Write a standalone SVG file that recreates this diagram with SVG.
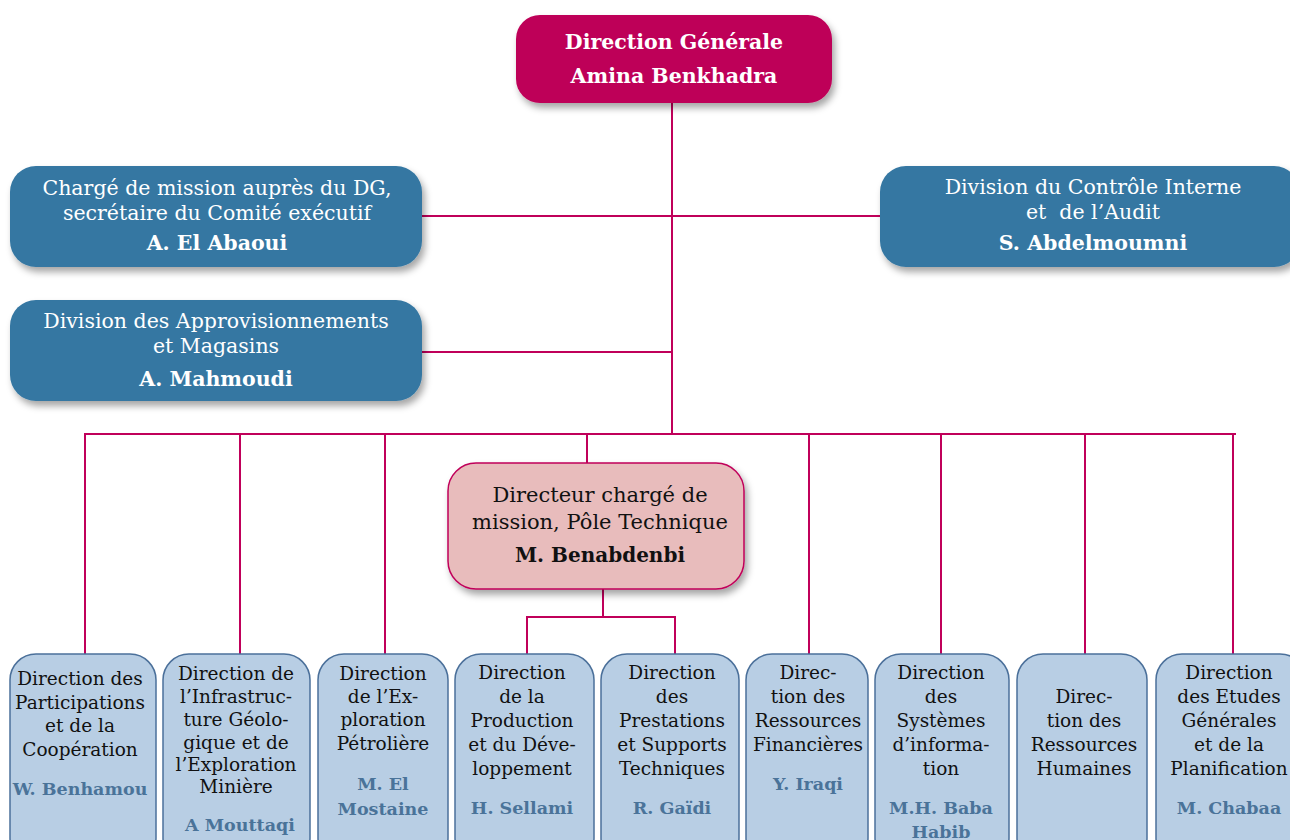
<svg xmlns="http://www.w3.org/2000/svg" width="1290" height="840" viewBox="0 0 1290 840">
<defs>
<filter id="sh" x="-10%" y="-20%" width="125%" height="150%">
<feDropShadow dx="3" dy="5" stdDeviation="3.5" flood-color="#000" flood-opacity="0.35"/>
</filter>
<style>
text{font-family:"DejaVu Serif","Liberation Serif",serif;text-anchor:middle}
.dg{fill:#BE0058;filter:url(#sh)}
.blue{fill:#3577A2;filter:url(#sh)}
.pink{fill:#E8BCBC;stroke:#C0005A;stroke-width:1.5;filter:url(#sh)}
.lb{fill:#B8CEE4;stroke:#4B709A;stroke-width:1.5}
.wt{fill:#fff;font-size:20.5px}
.wb{fill:#fff;font-size:20.5px;font-weight:bold}
.pt{fill:#111;font-size:21px}
.pb{fill:#111;font-size:20px;font-weight:bold}
.bt{fill:#111;font-size:18.5px}
.bn{fill:#4A7399;font-size:17.5px;font-weight:bold}
.con line,.con polyline{stroke:#C0005A;stroke-width:2;fill:none}
</style>
</defs>
<rect width="1290" height="840" fill="#fff"/>
<g class="con">
<line x1="672" y1="103" x2="672" y2="435"/>
<line x1="422" y1="216" x2="880" y2="216"/>
<line x1="422" y1="352" x2="672" y2="352"/>
<line x1="84" y1="434" x2="1236" y2="434"/>
<line x1="85" y1="434" x2="85" y2="654"/>
<line x1="240" y1="434" x2="240" y2="654"/>
<line x1="385" y1="434" x2="385" y2="654"/>
<line x1="587" y1="434" x2="587" y2="463"/>
<line x1="809" y1="434" x2="809" y2="654"/>
<line x1="941" y1="434" x2="941" y2="654"/>
<line x1="1085" y1="434" x2="1085" y2="654"/>
<line x1="1233" y1="434" x2="1233" y2="654"/>
<line x1="603" y1="589" x2="603" y2="617"/>
<polyline points="527,655 527,617 675,617 675,655"/>
</g>
<g id="dg">
<rect class="dg" x="516" y="15" width="316" height="88" rx="24"/>
<text class="wb" x="674" y="49">Direction Générale</text>
<text class="wb" x="674" y="83">Amina Benkhadra</text>
</g>
<g id="charge">
<rect class="blue" x="10" y="166" width="412" height="101" rx="26"/>
<text class="wt" x="217" y="195">Chargé de mission auprès du DG,</text>
<text class="wt" x="217" y="220">secrétaire du Comité exécutif</text>
<text class="wb" x="217" y="250">A. El Abaoui</text>
</g>
<g id="audit">
<rect class="blue" x="880" y="166" width="420" height="101" rx="26"/>
<text class="wt" x="1093" y="194">Division du Contrôle Interne</text>
<text class="wt" x="1093" y="219" style="white-space:pre">et  de l’Audit</text>
<text class="wb" x="1093" y="250">S. Abdelmoumni</text>
</g>
<g id="appro">
<rect class="blue" x="10" y="300" width="412" height="101" rx="26"/>
<text class="wt" x="216" y="328">Division des Approvisionnements</text>
<text class="wt" x="216" y="353">et Magasins</text>
<text class="wb" x="216" y="386">A. Mahmoudi</text>
</g>
<g id="pole">
<rect class="pink" x="448" y="463" width="296" height="126" rx="28"/>
<text class="pt" x="600" y="502">Directeur chargé de</text>
<text class="pt" x="600" y="529">mission, Pôle Technique</text>
<text class="pb" x="600" y="562">M. Benabdenbi</text>
</g>
<g id="d1">
<rect class="lb" x="10" y="654" width="146" height="210" rx="26"/>
<text class="bt" x="80" y="685">Direction des</text>
<text class="bt" x="80" y="709">Participations</text>
<text class="bt" x="80" y="732">et de la</text>
<text class="bt" x="80" y="756">Coopération</text>
<text class="bn" x="80" y="795">W. Benhamou</text>
</g>
<g id="d2">
<rect class="lb" x="163" y="654" width="147" height="210" rx="26"/>
<text class="bt" x="236" y="680">Direction de</text>
<text class="bt" x="236" y="703">l’Infrastruc-</text>
<text class="bt" x="236" y="726">ture Géolo-</text>
<text class="bt" x="236" y="749">gique et de</text>
<text class="bt" x="236" y="771">l’Exploration</text>
<text class="bt" x="236" y="793">Minière</text>
<text class="bn" x="240" y="831">A Mouttaqi</text>
</g>
<g id="d3">
<rect class="lb" x="318" y="654" width="130" height="210" rx="26"/>
<text class="bt" x="383" y="680">Direction</text>
<text class="bt" x="383" y="703">de l’Ex-</text>
<text class="bt" x="383" y="726">ploration</text>
<text class="bt" x="383" y="750">Pétrolière</text>
<text class="bn" x="383" y="790">M. El</text>
<text class="bn" x="383" y="815">Mostaine</text>
</g>
<g id="d4">
<rect class="lb" x="455" y="654" width="139" height="210" rx="26"/>
<text class="bt" x="522" y="679">Direction</text>
<text class="bt" x="522" y="703">de la</text>
<text class="bt" x="522" y="727">Production</text>
<text class="bt" x="522" y="751">et du Déve-</text>
<text class="bt" x="522" y="775">loppement</text>
<text class="bn" x="522" y="814">H. Sellami</text>
</g>
<g id="d5">
<rect class="lb" x="601" y="654" width="138" height="210" rx="26"/>
<text class="bt" x="672" y="679">Direction</text>
<text class="bt" x="672" y="703">des</text>
<text class="bt" x="672" y="727">Prestations</text>
<text class="bt" x="672" y="751">et Supports</text>
<text class="bt" x="672" y="775">Techniques</text>
<text class="bn" x="672" y="814">R. Gaïdi</text>
</g>
<g id="d6">
<rect class="lb" x="746" y="654" width="122" height="210" rx="26"/>
<text class="bt" x="808" y="679">Direc-</text>
<text class="bt" x="808" y="703">tion des</text>
<text class="bt" x="808" y="727">Ressources</text>
<text class="bt" x="808" y="751">Financières</text>
<text class="bn" x="808" y="790">Y. Iraqi</text>
</g>
<g id="d7">
<rect class="lb" x="875" y="654" width="134" height="210" rx="26"/>
<text class="bt" x="941" y="679">Direction</text>
<text class="bt" x="941" y="703">des</text>
<text class="bt" x="941" y="727">Systèmes</text>
<text class="bt" x="941" y="751">d’informa-</text>
<text class="bt" x="941" y="775">tion</text>
<text class="bn" x="941" y="814">M.H. Baba</text>
<text class="bn" x="941" y="838">Habib</text>
</g>
<g id="d8">
<rect class="lb" x="1017" y="654" width="130" height="210" rx="26"/>
<text class="bt" x="1084" y="703">Direc-</text>
<text class="bt" x="1084" y="727">tion des</text>
<text class="bt" x="1084" y="751">Ressources</text>
<text class="bt" x="1084" y="775">Humaines</text>
</g>
<g id="d9">
<rect class="lb" x="1156" y="654" width="150" height="210" rx="26"/>
<text class="bt" x="1229" y="679">Direction</text>
<text class="bt" x="1229" y="703">des Etudes</text>
<text class="bt" x="1229" y="727">Générales</text>
<text class="bt" x="1229" y="751">et de la</text>
<text class="bt" x="1229" y="775">Planification</text>
<text class="bn" x="1229" y="814">M. Chabaa</text>
</g>
</svg>
